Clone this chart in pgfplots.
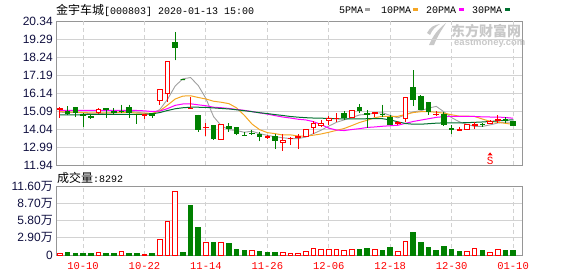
\documentclass[border=0pt]{standalone}
\usepackage{pgfplots}
\pgfplotsset{compat=1.18}
\usepgfplotslibrary{statistics}
\usepackage{pgfplotstable}
\usepackage{fontspec}
\setmainfont{Liberation Sans}
\setmonofont{Liberation Mono}
\newfontfamily\cjk{Noto Sans CJK SC}
\definecolor{cred}{RGB}{255,0,0}
\definecolor{cgreen}{RGB}{0,128,0}
\definecolor{mafive}{RGB}{160,160,160}
\definecolor{maten}{RGB}{245,166,35}
\definecolor{matwenty}{RGB}{255,0,255}
\definecolor{mathirty}{RGB}{0,112,48}
\definecolor{framec}{RGB}{150,150,150}
\definecolor{gridc}{RGB}{210,210,210}
\definecolor{lab}{RGB}{16,16,64}
\definecolor{wm}{RGB}{200,200,200}

\pgfplotstableread{
i ma5 ma10 ma20 ma30
0 15.02 15.05 15.12 14.86
1 15.00 15.04 15.12 14.86
2 15.00 15.02 15.12 14.86
3 14.98 15.00 15.12 14.87
4 14.93 14.98 15.12 14.90
5 14.93 14.98 15.12 14.90
6 14.97 14.98 15.12 14.90
7 14.98 14.99 15.12 14.90
8 15.03 15.00 15.12 14.90
9 15.08 15.01 15.12 14.90
10 15.02 14.97 15.12 14.90
11 14.96 14.97 15.10 14.90
12 14.92 14.95 15.06 14.92
13 15.18 15.10 15.09 15.00
14 15.77 15.43 15.23 15.12
15 16.55 15.79 15.42 15.22
16 16.97 15.96 15.50 15.28
17 17.04 15.98 15.51 15.31
18 16.58 15.88 15.45 15.31
19 15.82 15.79 15.40 15.30
20 14.76 15.66 15.31 15.27
21 14.23 15.60 15.28 15.24
22 14.00 15.52 15.24 15.21
23 13.95 15.27 15.18 15.16
24 13.85 14.84 15.13 15.11
25 13.91 14.33 15.06 15.05
26 13.77 14.00 14.98 14.99
27 13.67 13.83 14.91 14.94
28 13.59 13.77 14.82 14.88
29 13.53 13.69 14.74 14.83
30 13.48 13.70 14.68 14.77
31 13.48 13.63 14.61 14.73
32 13.57 13.62 14.57 14.70
33 13.77 13.68 14.47 14.68
34 13.97 13.75 14.30 14.67
35 14.21 13.85 14.09 14.66
36 14.43 13.96 13.98 14.64
37 14.57 14.07 13.95 14.63
38 14.71 14.24 14.01 14.63
39 14.86 14.42 14.06 14.63
40 14.90 14.55 14.13 14.64
41 14.96 14.70 14.16 14.64
42 14.99 14.78 14.20 14.64
43 14.83 14.77 14.23 14.57
44 14.69 14.78 14.26 14.46
45 14.88 14.89 14.37 14.36
46 15.04 15.00 14.48 14.32
47 15.11 15.05 14.56 14.32
48 15.26 15.05 14.64 14.35
49 15.36 15.02 14.72 14.38
50 15.04 14.96 14.76 14.40
51 14.70 14.87 14.78 14.40
52 14.46 14.79 14.78 14.40
53 14.31 14.79 14.78 14.41
54 14.19 14.77 14.77 14.43
55 14.19 14.62 14.75 14.45
56 14.28 14.49 14.74 14.48
57 14.39 14.43 14.74 14.51
58 14.44 14.37 14.71 14.55
59 14.43 14.31 14.67 14.58
}\matab

\pgfplotstableread{
i v
0 0.17
5 0.45
8 0.61
11 0.11
13 2.62
14 5.69
15 10.71
19 2.18
21 2.18
25 0.78
29 0.45
30 0.28
31 0.28
32 0.67
33 1.12
34 0.95
35 0.95
36 0.95
37 0.84
38 0.95
41 1.00
44 0.61
45 2.34
53 0.67
54 1.06
56 0.45
57 0.95
}\volred

\pgfplotstableread{
i v
1 0.50
2 0.33
3 0.33
4 0.17
6 0.17
7 0.17
9 0.33
10 0.17
12 0.17
16 0.50
17 8.37
18 4.57
20 2.18
22 2.01
23 1.00
24 0.72
26 0.67
27 0.50
28 0.50
39 1.00
40 1.17
42 0.84
43 1.34
46 3.85
47 2.18
48 1.34
49 0.84
50 1.51
51 1.00
52 0.67
55 0.84
58 0.84
59 0.84
}\volgreen

% red candle: position, low, open, close, high
\newcommand{\rc}[5]{\addplot[cred, fill=white, line width=1pt, boxplot prepared={draw position=#1, lower whisker=#2, lower quartile=#3, median=#4, upper quartile=#4, upper whisker=#5}] coordinates {};}
% green candle: position, low, close, open, high
\newcommand{\gc}[5]{\addplot[cgreen, fill=cgreen, line width=1pt, boxplot prepared={draw position=#1, lower whisker=#2, lower quartile=#3, median=#4, upper quartile=#4, upper whisker=#5}] coordinates {};}

\begin{document}
\begin{tikzpicture}
\useasboundingbox (0pt,0pt) rectangle (578pt,-276pt);

% watermark
\fill[wm] (429pt,-45pt) .. controls (433pt,-36pt) and (437pt,-30pt) .. (446pt,-23pt) .. controls (441pt,-31pt) and (437pt,-37pt) .. (434pt,-45pt) -- cycle;
\fill[wm] (427pt,-33pt) .. controls (430pt,-27pt) and (434pt,-25pt) .. (440pt,-24pt) .. controls (435pt,-27pt) and (432pt,-30pt) .. (430pt,-35pt) -- cycle;
\node[anchor=west, inner sep=0pt, text=wm] at (451pt,-31pt) {\cjk\bfseries\fontsize{14}{14}\selectfont 东方财富网};
\node[anchor=west, inner sep=0pt, text=wm] at (454pt,-43.5pt) {\bfseries\fontsize{9.5}{9.5}\selectfont eastmoney.com};

% title and legend
\node[anchor=base west, inner sep=0pt] at (56pt,-14pt) {{\cjk\fontsize{12}{12}\selectfont 金宇车城}{\ttfamily\fontsize{10}{10}\selectfont[000803] 2020-01-13 15:00}};
\node[anchor=base west, inner sep=0pt] at (339pt,-13.5pt) {\ttfamily\fontsize{10}{10}\selectfont 5PMA};
\fill[mafive] (365pt,-8pt) rectangle (370pt,-11pt);
\node[anchor=base west, inner sep=0pt] at (381pt,-13.5pt) {\ttfamily\fontsize{10}{10}\selectfont 10PMA};
\fill[maten] (413pt,-8pt) rectangle (418pt,-11pt);
\node[anchor=base west, inner sep=0pt] at (426pt,-13.5pt) {\ttfamily\fontsize{10}{10}\selectfont 20PMA};
\fill[matwenty] (459pt,-8pt) rectangle (464pt,-11pt);
\node[anchor=base west, inner sep=0pt] at (472pt,-13.5pt) {\ttfamily\fontsize{10}{10}\selectfont 30PMA};
\fill[mathirty] (505pt,-8pt) rectangle (510pt,-11pt);

\node[anchor=base west, inner sep=0pt] at (57pt,-182pt) {{\cjk\fontsize{12}{12}\selectfont 成交量}{\ttfamily\fontsize{10}{10}\selectfont:8292}};

% price panel
\begin{axis}[
  at={(56pt,-165pt)}, anchor=south west, scale only axis,
  width=466pt, height=144pt,
  xmin=-0.52, xmax=60.16, ymin=11.94, ymax=20.34,
  axis line style={framec, line width=1pt},
  ytick={11.94,12.99,14.04,15.09,16.14,17.19,18.24,19.29,20.34},
  yticklabels={11.94,12.99,14.04,15.09,16.14,17.19,18.24,19.29,20.34},
  xtick={3,11,19,27,35,43,51,59}, xticklabels={},
  ymajorgrids, major grid style={gridc, line width=1pt},
  major tick length=0pt, tick style={draw=none},
  yticklabel style={font=\fontsize{12}{12}\selectfont, text=lab, anchor=east, inner sep=0pt, xshift=-3pt},
  boxplot/draw direction=y, boxplot/box extend=0.6, boxplot/whisker extend=0,
]
\pgfplotsinvokeforeach{3,11,19,27,35,43,51,59}{\draw[gridc, line width=1pt, dash pattern=on 4pt off 3pt] (axis cs:#1,11.94) -- (axis cs:#1,20.34);}
\addplot[mafive, line width=0.9pt] table[x=i, y=ma5] {\matab};
\addplot[maten, line width=1pt] table[x=i, y=ma10] {\matab};
\addplot[matwenty, line width=1pt] table[x=i, y=ma20] {\matab};
\addplot[mathirty, line width=1pt] table[x=i, y=ma30] {\matab};
\rc{0}{14.70}{15.15}{15.22}{15.30}
\gc{1}{14.84}{14.93}{15.07}{15.38}
\gc{2}{14.74}{14.99}{15.32}{15.33}
\gc{3}{14.16}{14.80}{14.88}{14.95}
\gc{4}{14.64}{14.72}{14.76}{14.90}
\rc{5}{14.93}{14.99}{15.19}{15.26}
\gc{6}{14.70}{15.16}{15.22}{15.23}
\gc{7}{14.88}{15.03}{15.05}{15.26}
\gc{8}{14.97}{15.05}{15.08}{15.46}
\gc{9}{14.68}{14.99}{15.32}{15.46}
\gc{10}{14.35}{14.87}{14.90}{14.93}
\rc{11}{14.62}{14.82}{14.86}{14.89}
\gc{12}{14.70}{14.84}{14.97}{14.99}
\rc{13}{15.46}{15.71}{16.32}{16.32}
\rc{14}{15.61}{16.10}{17.95}{17.95}
\gc{15}{18.04}{18.80}{19.07}{19.70}
\gc{16}{16.92}{16.92}{16.92}{16.92}
\rc{17}{15.15}{15.21}{15.23}{15.91}
\gc{18}{13.87}{14.02}{14.84}{14.88}
\rc{19}{13.63}{14.10}{14.13}{14.39}
\gc{20}{13.44}{13.48}{14.22}{14.22}
\rc{21}{13.44}{13.44}{14.29}{14.33}
\gc{22}{13.87}{14.06}{14.20}{14.39}
\gc{23}{13.67}{13.77}{14.10}{14.10}
\gc{24}{13.63}{13.67}{13.69}{13.87}
\gc{25}{13.73}{13.75}{13.79}{14.00}
\gc{26}{13.32}{13.58}{13.73}{13.87}
\rc{27}{13.44}{13.56}{13.58}{13.71}
\gc{28}{12.86}{13.38}{13.63}{13.77}
\rc{29}{12.74}{13.28}{13.38}{13.77}
\rc{30}{13.13}{13.46}{13.50}{13.56}
\rc{31}{12.90}{13.56}{13.58}{13.77}
\rc{32}{13.61}{13.63}{14.00}{14.06}
\rc{33}{13.77}{14.10}{14.39}{14.49}
\rc{34}{14.22}{14.24}{14.39}{14.58}
\rc{35}{14.29}{14.53}{14.68}{14.78}
\rc{36}{14.45}{14.66}{14.68}{14.97}
\gc{37}{14.58}{14.70}{14.93}{15.07}
\rc{38}{14.70}{14.72}{15.11}{15.11}
\gc{39}{14.99}{15.13}{15.32}{15.48}
\gc{40}{14.10}{14.88}{14.92}{15.13}
\rc{41}{14.72}{14.97}{14.99}{15.03}
\gc{42}{14.74}{14.86}{14.90}{15.46}
\gc{43}{14.29}{14.29}{14.74}{14.84}
\rc{44}{14.29}{14.39}{14.43}{14.49}
\rc{45}{14.45}{14.64}{15.85}{15.87}
\gc{46}{15.38}{15.77}{16.49}{17.46}
\gc{47}{15.13}{15.19}{15.96}{16.00}
\gc{48}{14.88}{15.07}{15.56}{15.61}
\rc{49}{14.80}{14.88}{14.90}{15.07}
\gc{50}{14.22}{14.29}{14.90}{15.03}
\gc{51}{13.73}{14.04}{14.06}{14.26}
\rc{52}{13.93}{13.93}{14.02}{14.16}
\rc{53}{14.04}{14.04}{14.29}{14.35}
\rc{54}{14.04}{14.27}{14.29}{14.45}
\gc{55}{14.16}{14.29}{14.31}{14.41}
\rc{56}{14.35}{14.35}{14.49}{14.55}
\rc{57}{14.41}{14.56}{14.58}{14.88}
\gc{58}{14.37}{14.54}{14.58}{14.74}
\gc{59}{14.26}{14.26}{14.49}{14.49}
\fill[cred] (axis cs:56,12.50) ++(-2.5pt,0pt) -- ++(5pt,0pt) -- ++(-2.5pt,3pt) -- cycle;
\node[text=cred, inner sep=0pt, font=\ttfamily\fontsize{11}{11}\selectfont] at (axis cs:56,12.20) {S};
\end{axis}

% volume panel
\begin{axis}[
  at={(56pt,-255pt)}, anchor=south west, scale only axis,
  width=466pt, height=69pt,
  xmin=-0.52, xmax=60.16, ymin=0, ymax=11.6,
  axis line style={framec, line width=1pt},
  ytick={0,2.9,5.8,8.7,11.6},
  yticklabels={0,{2.90{\cjk 万}},{5.80{\cjk 万}},{8.70{\cjk 万}},{11.60{\cjk 万}}},
  xtick={3,11,19,27,35,43,51,59},
  xticklabels={10-10,10-22,11-14,11-26,12-06,12-18,12-30,01-10},
  ymajorgrids, major grid style={gridc, line width=1pt},
  major tick length=0pt, tick style={draw=none},
  yticklabel style={font=\fontsize{12}{12}\selectfont, text=lab, anchor=east, inner sep=0pt, xshift=-3pt},
  xticklabel style={font=\ttfamily\fontsize{10.5}{10.5}\selectfont, text=cred, anchor=north, inner sep=0pt, yshift=-7pt},
]
\pgfplotsinvokeforeach{3,11,19,27,35,43,51,59}{\draw[gridc, line width=1pt, dash pattern=on 4pt off 3pt] (axis cs:#1,0) -- (axis cs:#1,11.6);}
\addplot[ybar, bar width=4.6pt, bar shift=0pt, draw=cred, fill=white, line width=1pt] table[x=i, y=v] {\volred};
\addplot[ybar, bar width=4.6pt, bar shift=0pt, draw=cgreen, fill=cgreen, line width=1pt] table[x=i, y=v] {\volgreen};
\end{axis}
\end{tikzpicture}
\end{document}
